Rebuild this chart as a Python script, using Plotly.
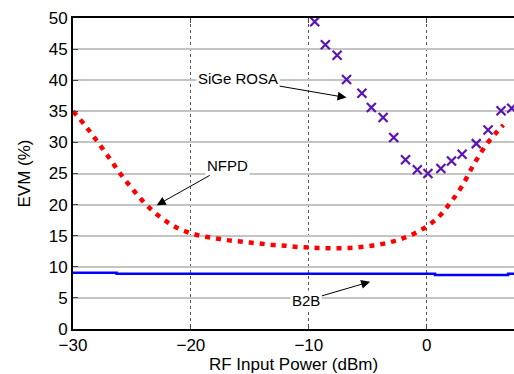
import plotly.graph_objects as go

# NFPD (red dotted curve)
nfpd_x = [-30, -29, -28, -27, -26, -25, -24, -23, -22, -21, -20, -19, -18, -17, -16, -15,
          -14, -13, -12, -11, -10, -9, -8, -7, -6, -5, -4, -3, -2, -1, 0, 1, 2, 3, 4, 5, 6, 6.5]
nfpd_y = [35.0, 32.8, 30.3, 27.7, 25.0, 22.6, 20.4, 18.6, 17.2, 16.1, 15.4, 14.9, 14.6, 14.3,
          14.1, 13.9, 13.7, 13.5, 13.4, 13.2, 13.1, 13.0, 13.0, 13.0, 13.1, 13.3, 13.6, 14.0,
          14.6, 15.4, 16.5, 18.0, 20.3, 23.0, 26.5, 29.5, 31.8, 32.8]

# SiGe ROSA (purple x markers)
sige_x = [-9.5, -8.6, -7.6, -6.8, -5.5, -4.7, -3.7, -2.8, -1.8, -0.8, 0.1, 1.2, 2.1, 3.0,
          4.2, 5.2, 6.3, 7.2]
sige_y = [49.4, 45.7, 44.0, 40.1, 37.9, 35.6, 34.0, 30.8, 27.2, 25.6, 25.0, 25.8, 27.0,
          28.1, 29.8, 32.0, 35.1, 35.5]

# B2B (blue step line)
b2b_x = [-30, -26.3, 0.7, 6.9, 7.4]
b2b_y = [9.05, 8.9, 8.7, 8.9, 8.9]

x_ticks = [-30, -20, -10, 0]
y_ticks = [0, 5, 10, 15, 20, 25, 30, 35, 40, 45, 50]

FONT = "Liberation Sans, Arial, sans-serif"

fig = go.Figure()
fig.add_trace(go.Scatter(x=b2b_x, y=b2b_y, mode="lines", line_shape="hv",
                         line=dict(color="#0000ff", width=2.5), showlegend=False))
fig.add_trace(go.Scatter(x=nfpd_x, y=nfpd_y, mode="lines", line_shape="spline",
                         line=dict(color="#ff0000", width=4.5, dash="5px,6px"),
                         showlegend=False))
fig.add_trace(go.Scatter(x=sige_x, y=sige_y, mode="markers",
                         marker=dict(symbol="x-thin", size=9, color="#5a14b4",
                                     line=dict(color="#5a14b4", width=2.2)),
                         showlegend=False))

ann_font = dict(family=FONT, size=15, color="black")
fig.add_annotation(x=-6.8, y=37.2, ax=-16.0, ay=40.2, axref="x", ayref="y",
                   text="SiGe ROSA", showarrow=True, arrowhead=2, arrowsize=1.8,
                   arrowwidth=1, arrowcolor="black", bgcolor="white", font=ann_font)
fig.add_annotation(x=-22.9, y=19.9, ax=-16.9, ay=26.3, axref="x", ayref="y",
                   text="NFPD", showarrow=True, arrowhead=2, arrowsize=1.8,
                   arrowwidth=1, arrowcolor="black", bgcolor="white", font=ann_font)
fig.add_annotation(x=-4.8, y=7.6, ax=-10.2, ay=4.6, axref="x", ayref="y",
                   text="B2B", showarrow=True, arrowhead=2, arrowsize=1.8,
                   arrowwidth=1, arrowcolor="black", bgcolor="white", font=ann_font)

fig.update_layout(
    width=514, height=374,
    margin=dict(l=73, r=0, t=18, b=45, autoexpand=False),
    paper_bgcolor="white", plot_bgcolor="white",
    font=dict(family=FONT, size=17, color="black"),
    xaxis=dict(range=[-30, 7.4], tickvals=x_ticks, ticks="inside", ticklen=5,
               showline=True, linecolor="black", linewidth=2, mirror="ticks",
               showgrid=True, gridcolor="#555555", gridwidth=1, griddash="dot",
               zeroline=False, tickfont=dict(size=17), automargin=False,
               title=dict(text="RF Input Power (dBm)", font=dict(size=17), standoff=1)),
    yaxis=dict(range=[0, 50], tickvals=y_ticks, ticks="inside", ticklen=5,
               showline=True, linecolor="black", linewidth=2,
               showgrid=True, gridcolor="#c4c4c4", gridwidth=1.5,
               zeroline=False, tickfont=dict(size=17), automargin=False,
               title=dict(text="EVM (%)", font=dict(size=17), standoff=14)),
)

fig.write_html("out.html", config={"displayModeBar": False},
               post_script="document.body.style.margin='0';document.body.style.overflow='hidden';")
